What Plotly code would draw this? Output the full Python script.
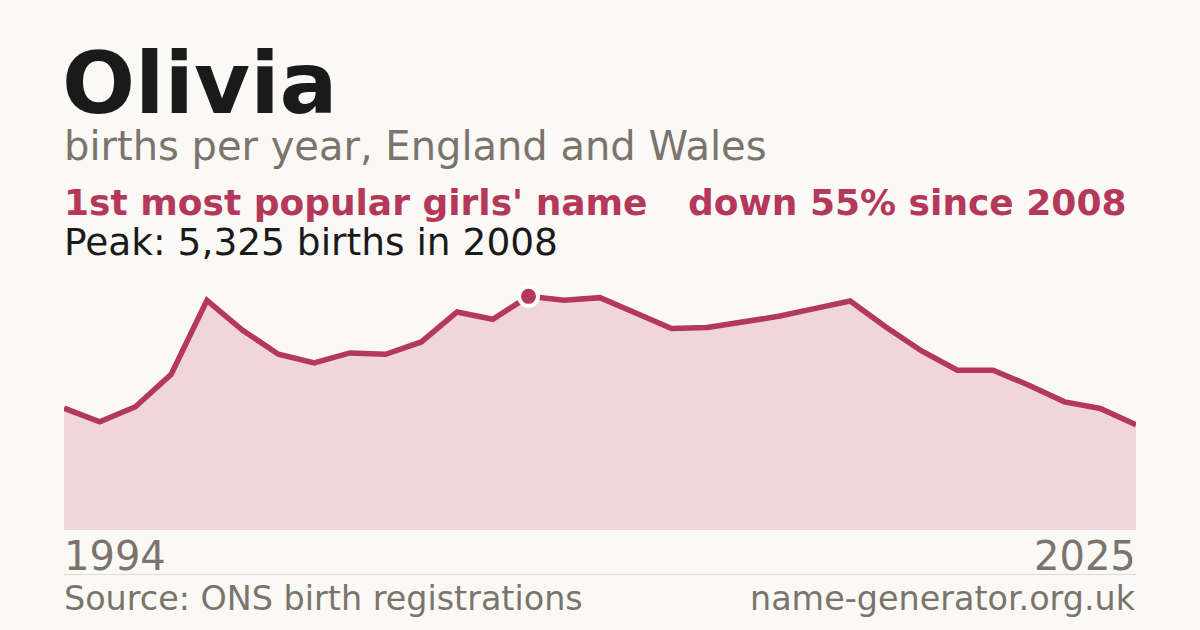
import plotly.graph_objects as go

years = list(range(1995, 2026))
births = [2776, 2464, 2810, 3550, 5234, 4551, 4005, 3807, 4035, 4005,
          4285, 4968, 4802, 5325, 5234, 5295, 4945, 4590, 4613, 4740,
          4870, 5045, 5218, 4626, 4080, 3641, 3641, 3300, 2920, 2769, 2396]
peak_year = 2008
peak_value = 5325
axis_labels = ["1994", "2025"]

name = "Olivia"
subtitle = "births per year, England and Wales"
rank_text = "1st most popular girls' name"
change_text = "down 55% since 2008"
peak_text = "Peak: 5,325 births in 2008"
source_text = "Source: ONS birth registrations"
site_text = "name-generator.org.uk"

BG = "#faf9f5"
RED = "#b3385a"
FILL = "#f0d5da"
DARK = "#1a1a1a"
GRAY = "#7a746c"
FONT = "DejaVu Sans"

W, H = 1200, 630
L, R = 64, 1136
TOP, BOT = 270, 530


def px(x):
    return (x - L) / (R - L)


def py(y):
    return (BOT - y) / (BOT - TOP)


fig = go.Figure()
fig.add_trace(go.Scatter(
    x=years, y=births, mode="lines",
    line=dict(color=RED, width=5.5, shape="linear"),
    fill="tozeroy", fillcolor=FILL, hoverinfo="skip", cliponaxis=True,
))
fig.add_trace(go.Scatter(
    x=[peak_year], y=[peak_value], mode="markers",
    marker=dict(color=RED, size=19, symbol="circle", line=dict(color="white", width=4)),
    hoverinfo="skip", cliponaxis=False,
))


def ann(text, x, y, size, color, xanchor="left", bold=False):
    t = f"<b>{text}</b>" if bold else text
    fig.add_annotation(text=t, x=px(x), y=py(y), xref="paper", yref="paper",
                       xanchor=xanchor, yanchor="middle", showarrow=False,
                       font=dict(family=FONT, size=size, color=color))


ann(name, 60, 83, 86, DARK, bold=True)
ann(subtitle, 62, 146, 40, GRAY)
ann(rank_text, 62, 202, 36, RED, bold=True)
ann(change_text, 686, 202, 36, RED, bold=True)
ann(peak_text, 62, 242, 37.5, DARK)
ann(axis_labels[0], 62, 556, 40, GRAY)
ann(axis_labels[1], 1138, 556, 40, GRAY, xanchor="right")
ann(source_text, 62, 598, 33.4, GRAY)
ann(site_text, 1138, 598, 33.4, GRAY, xanchor="right")

fig.add_shape(type="line", xref="paper", yref="paper",
              x0=px(L), x1=px(R), y0=py(574.5), y1=py(574.5),
              line=dict(color="#dedbd4", width=1))

fig.update_layout(
    width=W, height=H,
    margin=dict(l=L, r=W - R, t=TOP, b=H - BOT, pad=0),
    paper_bgcolor=BG, plot_bgcolor=BG,
    showlegend=False,
    xaxis=dict(range=[years[0], years[-1]], visible=False, fixedrange=True),
    yaxis=dict(range=[0, 5925], visible=False, fixedrange=True),
)

fig.write_html("out.html", config={"displayModeBar": False},
               post_script="document.body.style.margin='0';document.body.style.background='%s';" % BG)
